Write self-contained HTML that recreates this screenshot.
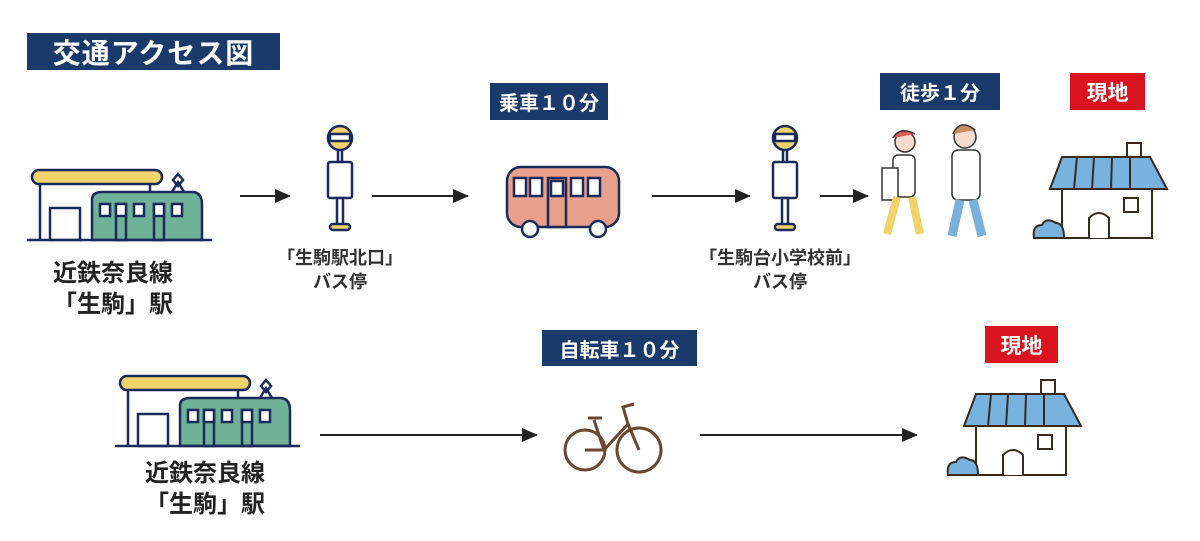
<!DOCTYPE html>
<html><head><meta charset="utf-8"><style>
body{margin:0;background:#fff;width:1200px;height:541px;overflow:hidden;position:relative;font-family:"Liberation Sans","Noto Sans CJK JP",sans-serif}
.b{position:absolute;color:#fff;font-weight:bold;display:flex;align-items:center;justify-content:center}
.n{background:#1a3a6c}.r{background:#d9141f}
.t{position:absolute;text-align:center;font-weight:bold;color:#222}
svg{position:absolute;left:0;top:0}
</style></head><body>
<div class="b n" style="left:27px;top:33px;width:253px;height:37px;font-size:28px;letter-spacing:1px">交通アクセス図</div>
<div class="b n" style="left:490px;top:83px;width:118px;height:37px;font-size:20px">乗車１０分</div>
<div class="b n" style="left:880px;top:73px;width:120px;height:37px;font-size:20px">徒歩１分</div>
<div class="b r" style="left:1070px;top:73px;width:75px;height:37px;font-size:21px">現地</div>
<div class="b n" style="left:542px;top:330px;width:155px;height:36px;font-size:20px">自転車１０分</div>
<div class="b r" style="left:985px;top:326px;width:73px;height:37px;font-size:21px">現地</div>
<div class="t" style="left:13px;top:258px;width:200px;font-size:24px;line-height:31px">近鉄奈良線<br>「生駒」駅</div>
<div class="t" style="left:105px;top:458px;width:200px;font-size:24px;line-height:31px">近鉄奈良線<br>「生駒」駅</div>
<div class="t" style="left:250px;top:246px;width:180px;font-size:18px;line-height:24px;font-weight:bold;color:#333">「生駒駅北口」<br>バス停</div>
<div class="t" style="left:675px;top:246px;width:210px;font-size:18px;line-height:24px;font-weight:bold;color:#333">「生駒台小学校前」<br>バス停</div>
<svg width="1200" height="541" viewBox="0 0 1200 541">
<defs>
<marker id="a" markerWidth="16" markerHeight="14" refX="15" refY="7" orient="auto" markerUnits="userSpaceOnUse"><path d="M0,0 L16,7 L0,14z" fill="#222"/></marker>
<g id="train" stroke="#1a2a5a" stroke-width="2.5" fill="none">
<rect x="0" y="0" width="130" height="14" rx="7" fill="#f3d36b"/>
<line x1="8" y1="14" x2="8" y2="70"/><line x1="118" y1="14" x2="118" y2="70"/>
<rect x="18" y="38" width="30" height="32"/>
<path d="M60,70 V30 Q60,22 70,22 H160 Q170,22 170,35 V70z" fill="#6fb298"/>
<rect x="68" y="34" width="10" height="12" fill="#fff"/><rect x="84" y="34" width="10" height="36" fill="#6fb298"/><rect x="84" y="34" width="10" height="12" fill="#fff"/>
<rect x="102" y="34" width="10" height="12" fill="#fff"/><rect x="122" y="34" width="10" height="36"/><rect x="122" y="34" width="10" height="12" fill="#fff"/><rect x="140" y="34" width="10" height="12" fill="#fff"/>
<path d="M140,22 L146,12 L152,22 M141,10 L146,4 L151,10 L146,16z"/>
<line x1="-5" y1="70" x2="180" y2="70"/>
</g>
<g id="stop" stroke="#1a2a5a" stroke-width="2.5">
<circle cx="0" cy="14" r="12" fill="#f3d36b"/><rect x="-10" y="10" width="20" height="7" fill="#fff"/>
<line x1="-2" y1="26" x2="-2" y2="38"/><line x1="2" y1="26" x2="2" y2="38"/>
<rect x="-12" y="38" width="24" height="36" rx="2" fill="#fff"/>
<rect x="-3" y="74" width="6" height="28" fill="#fff"/><rect x="-10" y="100" width="20" height="6" rx="3" fill="#f3d36b"/>
</g>
<g id="house" stroke="#3a2a1e" stroke-width="2" fill="#fff">
<rect x="95" y="0" width="14" height="16"/>
<path d="M30,45 V95 H120 V45"/>
<path d="M18,46 L30,14 H118 L135,46z" fill="#78b3e0"/>
<path d="M45,14 L42,46 M62,14 L60,46 M80,14 L79,46 M98,14 L98,46" fill="none"/>
<rect x="92" y="55" width="14" height="14"/><path d="M57,95 V75 Q67,65 77,75 V95"/>
<path d="M2,95 Q0,82 10,82 Q14,74 24,80 Q32,80 32,95z" fill="#78b3e0"/>
</g>
</defs>
<use href="#train" x="32" y="170"/>
<use href="#train" x="120" y="376"/>
<g stroke="#222" stroke-width="2" marker-end="url(#a)">
<line x1="240" y1="196" x2="290" y2="196"/><line x1="372" y1="196" x2="468" y2="196"/>
<line x1="652" y1="196" x2="750" y2="196"/><line x1="820" y1="196" x2="868" y2="196"/>
<line x1="320" y1="435" x2="537" y2="435"/><line x1="700" y1="435" x2="917" y2="435"/>
</g>
<use href="#stop" x="340" y="124"/>
<use href="#stop" x="785" y="124"/>
<g stroke="#1a2a5a" stroke-width="2.5">
<rect x="507" y="167" width="112" height="60" rx="14" fill="#e8a08a"/>
<rect x="514" y="178" width="12" height="18" fill="#fff"/><rect x="530" y="178" width="12" height="18" fill="#fff"/>
<rect x="548" y="178" width="18" height="49" fill="#e8a08a"/><rect x="551" y="181" width="12" height="15" fill="#fff"/>
<rect x="571" y="178" width="12" height="18" fill="#fff"/><rect x="588" y="178" width="12" height="18" fill="#fff"/>
<circle cx="530" cy="229" r="8" fill="#fff"/><circle cx="598" cy="229" r="8" fill="#fff"/>
</g>
<g stroke="#333" stroke-width="1.5">
<circle cx="905" cy="142" r="10" fill="#f6dccc"/><path d="M893,138 Q900,126 915,134" fill="#e25a5a"/>
<rect x="893" y="155" width="22" height="42" rx="5" fill="#fff"/><rect x="882" y="168" width="16" height="32" fill="#fff"/>
<path d="M897,197 L887,234 M912,197 L920,234" stroke="#f1d36a" stroke-width="8"/>
<circle cx="965" cy="137" r="11" fill="#f6dccc"/><path d="M953,134 Q960,118 975,130" fill="#c89060"/>
<rect x="952" y="150" width="28" height="50" rx="6" fill="#fff"/>
<path d="M960,200 L952,236 M973,200 L982,236" stroke="#7ab1db" stroke-width="9"/>
</g>
<use href="#house" x="1032" y="143"/>
<use href="#house" x="946" y="380"/>
<g stroke="#6b4630" stroke-width="3" fill="none">
<circle cx="585" cy="450" r="20"/><circle cx="639" cy="450" r="22"/>
<path d="M585,450 L604,450 L628,424 L639,450 M604,450 L594,420 M588,418 H602 M628,424 L623,407 L634,404"/>
</g>
</svg>
</body></html>
